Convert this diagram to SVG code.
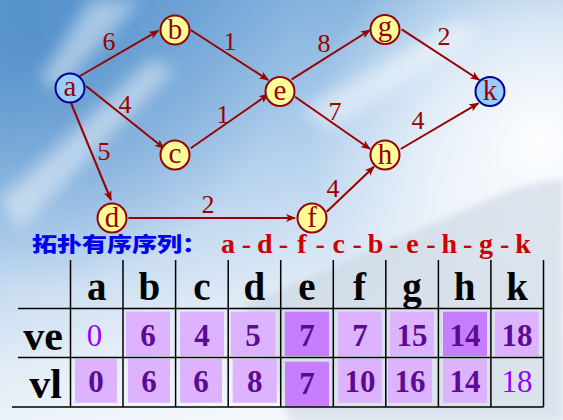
<svg xmlns="http://www.w3.org/2000/svg" width="563" height="420" viewBox="0 0 563 420">
<defs>
<linearGradient id="bg" x1="0" y1="0" x2="0.35" y2="1">
<stop offset="0" stop-color="#6aa2d6"/>
<stop offset="0.45" stop-color="#aecdeb"/>
<stop offset="0.8" stop-color="#e4edf7"/>
<stop offset="1" stop-color="#f3f7fb"/>
</linearGradient>
<radialGradient id="glow" cx="540" cy="140" r="230" gradientUnits="userSpaceOnUse">
<stop offset="0" stop-color="#ffffff" stop-opacity="0.95"/>
<stop offset="0.5" stop-color="#ffffff" stop-opacity="0.6"/>
<stop offset="1" stop-color="#ffffff" stop-opacity="0"/>
</radialGradient>
<radialGradient id="dark" cx="30" cy="30" r="260" gradientUnits="userSpaceOnUse">
<stop offset="0" stop-color="#4d8bc8" stop-opacity="0.8"/>
<stop offset="1" stop-color="#4d8bc8" stop-opacity="0"/>
</radialGradient>
<filter id="blur" x="-20%" y="-20%" width="140%" height="140%"><feGaussianBlur stdDeviation="8"/></filter>
<filter id="blur2" x="-10%" y="-10%" width="120%" height="120%"><feGaussianBlur stdDeviation="3"/></filter>
<marker id="arr" viewBox="0 0 10 8" refX="9" refY="4" markerWidth="10" markerHeight="8" orient="auto" markerUnits="userSpaceOnUse">
<path d="M0,0 L10,4 L0,8 L2.5,4 z" fill="#990000"/>
</marker>
<style>
.edge{stroke:#990000;stroke-width:2;fill:none;marker-end:url(#arr)}
.ny{fill:#ffff99;stroke:#990000;stroke-width:2}
.nb{fill:#99ccff;stroke:#000099;stroke-width:2}
.nl{font-family:"Liberation Serif","Times New Roman",serif;font-size:29px;fill:#990000;text-anchor:middle}
.w{font-family:"Liberation Serif","Times New Roman",serif;font-size:26px;fill:#990000;text-anchor:middle}
.seq{font-family:"Liberation Serif","Times New Roman",serif;font-size:28px;font-weight:bold;fill:#cc0000;text-anchor:middle}
.grid{stroke:#000;stroke-width:1.5;fill:none}
.hd{font-family:"Liberation Serif","Times New Roman",serif;font-size:39px;font-weight:bold;fill:#000;text-anchor:middle}
.rl{font-family:"Liberation Serif","Times New Roman",serif;font-size:42px;font-weight:bold;fill:#000;text-anchor:end}
.lt{fill:#ddb3ff}
.dk{fill:#c77dff}
.v{font-family:"Liberation Serif","Times New Roman",serif;font-size:31px;font-weight:bold;fill:#5c0a94;text-anchor:middle}
.vn{font-family:"Liberation Serif","Times New Roman",serif;font-size:31px;fill:#9900ff;text-anchor:middle}
</style>
</defs>

<g id="background">
<rect width="563" height="420" fill="url(#bg)"/>
<rect width="563" height="420" fill="url(#dark)"/>
<rect width="563" height="420" fill="url(#glow)"/>
<g filter="url(#blur)" opacity="0.45" fill="#ffffff">
<path d="M0,200 L150,60 L175,70 L20,230 z"/>
<path d="M90,0 L140,0 L60,90 L40,80 z"/>
<path d="M300,110 L460,20 L480,35 L330,130 z"/>
</g>
<path d="M244,305 L515,188 L563,178 L563,420 L290,420 z" fill="#c7d3e0" opacity="0.55" filter="url(#blur2)"/>
</g>

<g id="connectors">
<line class="edge" x1="80" y1="76" x2="158.3" y2="30.7"/>
<line class="edge" x1="190.7" y1="30" x2="268.3" y2="80"/>
<line class="edge" x1="86" y1="86" x2="164" y2="148.3"/>
<line class="edge" x1="190.7" y1="148.3" x2="268.3" y2="94.3"/>
<line class="edge" x1="71" y1="103" x2="111" y2="200"/>
<line class="edge" x1="128.3" y1="218" x2="295" y2="218"/>
<line class="edge" x1="291.7" y1="79.3" x2="370" y2="30"/>
<line class="edge" x1="295" y1="96.7" x2="370" y2="149"/>
<line class="edge" x1="401.7" y1="29.3" x2="479.3" y2="80"/>
<line class="edge" x1="400.7" y1="149" x2="478.3" y2="103.3"/>
<line class="edge" x1="326.7" y1="211.7" x2="374" y2="166.7"/>
<text class="w" x="109" y="50">6</text>
<text class="w" x="230" y="50">1</text>
<text class="w" x="125" y="113">4</text>
<text class="w" x="223" y="123">1</text>
<text class="w" x="104" y="160">5</text>
<text class="w" x="208" y="213">2</text>
<text class="w" x="324" y="52">8</text>
<text class="w" x="444" y="45">2</text>
<text class="w" x="335" y="120">7</text>
<text class="w" x="418" y="129">4</text>
<text class="w" x="333" y="197">4</text>
</g>

<g id="node-a"><circle class="nb" cx="70" cy="88" r="14.5"/><text class="nl" x="70" y="96">a</text></g>
<g id="node-b"><circle class="ny" cx="175" cy="30" r="14.5"/><text class="nl" x="175" y="38.5">b</text></g>
<g id="node-c"><circle class="ny" cx="175" cy="155" r="14.5"/><text class="nl" x="175" y="163">c</text></g>
<g id="node-d"><circle class="ny" cx="112" cy="218" r="14.5"/><text class="nl" x="112" y="226.5">d</text></g>
<g id="node-e"><circle class="ny" cx="280" cy="91.5" r="14.5"/><text class="nl" x="280" y="99.5">e</text></g>
<g id="node-f"><circle class="ny" cx="312" cy="218" r="14.5"/><text class="nl" x="312" y="226.5">f</text></g>
<g id="node-g"><circle class="ny" cx="385" cy="29.5" r="14.5"/><text class="nl" x="385" y="36">g</text></g>
<g id="node-h"><circle class="ny" cx="385" cy="155" r="14.5"/><text class="nl" x="385" y="163.5">h</text></g>
<g id="node-k"><circle class="nb" cx="490" cy="91.5" r="14.5"/><text class="nl" x="490" y="100">k</text></g>

<g id="title">
<text x="32" y="252" font-family="'Noto Sans CJK SC','Noto Sans CJK JP',sans-serif" font-size="20" font-weight="900" fill="#0000ee" textLength="175" lengthAdjust="spacingAndGlyphs">拓扑有序序列：</text>
<text class="seq" y="253"><tspan x="228">a</tspan><tspan x="246.4">-</tspan><tspan x="264.9">d</tspan><tspan x="283.3">-</tspan><tspan x="301.8">f</tspan><tspan x="320.2">-</tspan><tspan x="338.6">c</tspan><tspan x="357.1">-</tspan><tspan x="375.5">b</tspan><tspan x="394">-</tspan><tspan x="412.4">e</tspan><tspan x="430.8">-</tspan><tspan x="449.3">h</tspan><tspan x="467.7">-</tspan><tspan x="486.1">g</tspan><tspan x="504.6">-</tspan><tspan x="523">k</tspan></text>
</g>

<g id="table">
<rect class="lt" x="126" y="311.7" width="44" height="44.3"/>
<rect class="lt" x="180" y="311.7" width="44" height="44.3"/>
<rect class="lt" x="230.7" y="311.7" width="44.6" height="44.3"/>
<rect class="dk" x="284.7" y="311.7" width="44.3" height="44.3"/>
<rect class="lt" x="338" y="311.7" width="43.7" height="44.3"/>
<rect class="lt" x="390" y="311.7" width="44" height="44.3"/>
<rect class="dk" x="443" y="311.7" width="44" height="44.3"/>
<rect class="lt" x="495" y="311.7" width="43.7" height="44.3"/>
<rect class="lt" x="75" y="359" width="42" height="43.7"/>
<rect class="lt" x="128" y="359" width="42" height="43.7"/>
<rect class="lt" x="180" y="359" width="42" height="43.7"/>
<rect class="lt" x="232.7" y="359" width="44" height="43.7"/>
<rect class="dk" x="285" y="361.7" width="44" height="45"/>
<rect class="lt" x="338.3" y="359" width="43.4" height="43.7"/>
<rect class="lt" x="388" y="359" width="44" height="43.7"/>
<rect class="lt" x="443" y="359" width="44" height="43.7"/>

<path class="grid" d="M70.5,260 V407 M123,260 V407 M175.6,260 V407 M228.2,260 V407 M280.7,260 V407 M333.3,260 V407 M385.8,260 V407 M438.4,260 V407 M490.9,260 V407 M543.5,260 V407 M18,308.5 H543.5 M18,357.5 H543.5 M12,407 H543.5"/>

<text class="hd" x="96.8" y="300">a</text>
<text class="hd" x="149.3" y="300">b</text>
<text class="hd" x="201.9" y="300">c</text>
<text class="hd" x="254.4" y="300">d</text>
<text class="hd" x="307" y="300">e</text>
<text class="hd" x="359.5" y="300">f</text>
<text class="hd" x="412.1" y="300">g</text>
<text class="hd" x="464.6" y="300">h</text>
<text class="hd" x="517.2" y="300">k</text>

<text class="rl" x="63" y="350">ve</text>
<text class="rl" x="62" y="398">vl</text>

<text class="vn" x="94.5" y="346">0</text>
<text class="v" x="148" y="346">6</text>
<text class="v" x="202" y="346">4</text>
<text class="v" x="253" y="346">5</text>
<text class="v" x="307" y="346">7</text>
<text class="v" x="360" y="346">7</text>
<text class="v" x="412" y="346">15</text>
<text class="v" x="465" y="346">14</text>
<text class="v" x="517" y="346">18</text>

<text class="v" x="96" y="392">0</text>
<text class="v" x="149" y="392">6</text>
<text class="v" x="201" y="392">6</text>
<text class="v" x="254.7" y="392">8</text>
<text class="v" x="307" y="394">7</text>
<text class="v" x="360" y="392">10</text>
<text class="v" x="410" y="392">16</text>
<text class="v" x="465" y="392">14</text>
<text class="vn" x="517" y="392">18</text>
</g>
</svg>
